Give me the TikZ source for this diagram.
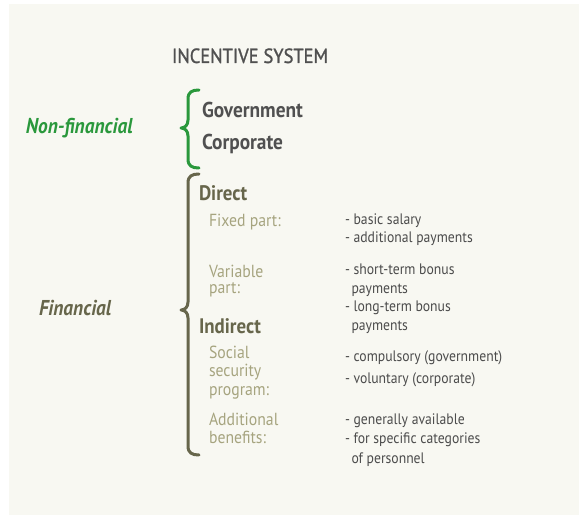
\documentclass[tikz,border=0pt]{standalone}
\usepackage{fontspec}
\setmainfont{PT Sans}[FakeStretch=0.9]
\newfontfamily\titlefont{PT Sans}[FakeStretch=0.9, FakeBold=1.2]
\definecolor{bgc}{HTML}{F8F8F2}
\definecolor{grn}{HTML}{2A983C}
\definecolor{hdg}{HTML}{505050}
\definecolor{olv}{HTML}{67664B}
\definecolor{lolv}{HTML}{A6A47F}
\definecolor{itm}{HTML}{4C4C4C}
\tikzset{
  txt/.style={anchor=base west, inner sep=0pt, outer sep=0pt},
  title/.style={txt, font=\titlefont\fontsize{20.5}{24}\selectfont, text=hdg},
  cat/.style={txt, font=\fontsize{21.5}{24}\selectfont\bfseries\itshape},
  sub/.style={txt, font=\fontsize{21.5}{24}\selectfont\bfseries, text=hdg},
  kind/.style={txt, font=\fontsize{21}{24}\selectfont\bfseries, text=olv},
  part/.style={txt, font=\fontsize{17.5}{20}\selectfont, text=lolv},
  item/.style={txt, font=\fontsize{15.2}{18}\selectfont, text=itm},
  brace/.style={line width=3pt, line cap=round, line join=round}
}
\begin{document}
\begin{tikzpicture}[x=1pt,y=-1pt]
\useasboundingbox (0,0) rectangle (579,516);
\fill[bgc] (9,4) rectangle (579,515);
\node[title] (t) at (172,63) {INCENTIVE SYSTEM};
% non-financial
\node[cat, text=grn] (nf) at (26,134) {Non-financial};
\draw[brace, grn] (199,90) .. controls (192,90) and (188,92) .. (188,99) -- (188,120)
  .. controls (188,125) and (185,128) .. (181,128)
  .. controls (185,128) and (188,131) .. (188,136) -- (188,159)
  .. controls (188,166) and (192,168) .. (199,168);
\node[sub] (gov) at (202,118) {Government};
\node[sub] (corp) at (202,150) {Corporate};
% financial
\node[cat, text=olv] (fin) at (39,316) {Financial};
\draw[brace, olv] (199,174) .. controls (192,174) and (188,176) .. (188,183) -- (188,302)
  .. controls (188,307) and (185,310) .. (181,310)
  .. controls (185,310) and (188,313) .. (188,318) -- (188,446)
  .. controls (188,453) and (192,455) .. (199,455);
\node[kind] (dir) at (199,201) {Direct};
\node[part] (fix) at (209,227) {Fixed part:};
\node[item] (f1) at (345,225) {- basic salary};
\node[item] (f2) at (345,243) {- additional payments};
\node[part] (var1) at (209,277) {Variable};
\node[part] (var2) at (209,294) {part:};
\node[item] (v1) at (345,274) {- short-term bonus};
\node[item] (v1b) at (351.5,293) {payments};
\node[item] (v2) at (345,312) {- long-term bonus};
\node[item] (v2b) at (351.5,330) {payments};
\node[kind] (ind) at (199,333) {Indirect};
\node[part] (soc1) at (209,358) {Social};
\node[part] (soc2) at (209,376.5) {security};
\node[part] (soc3) at (209,395) {program:};
\node[item] (s1) at (345,361) {- compulsory (government)};
\node[item] (s2) at (345,383) {- voluntary (corporate)};
\node[part] (add1) at (209,425) {Additional};
\node[part] (add2) at (209,443) {benefits:};
\node[item] (a1) at (345,424) {- generally available};
\node[item] (a2) at (345,443) {- for specific categories};
\node[item] (a2b) at (351.5,463) {of personnel};
\end{tikzpicture}
\end{document}
